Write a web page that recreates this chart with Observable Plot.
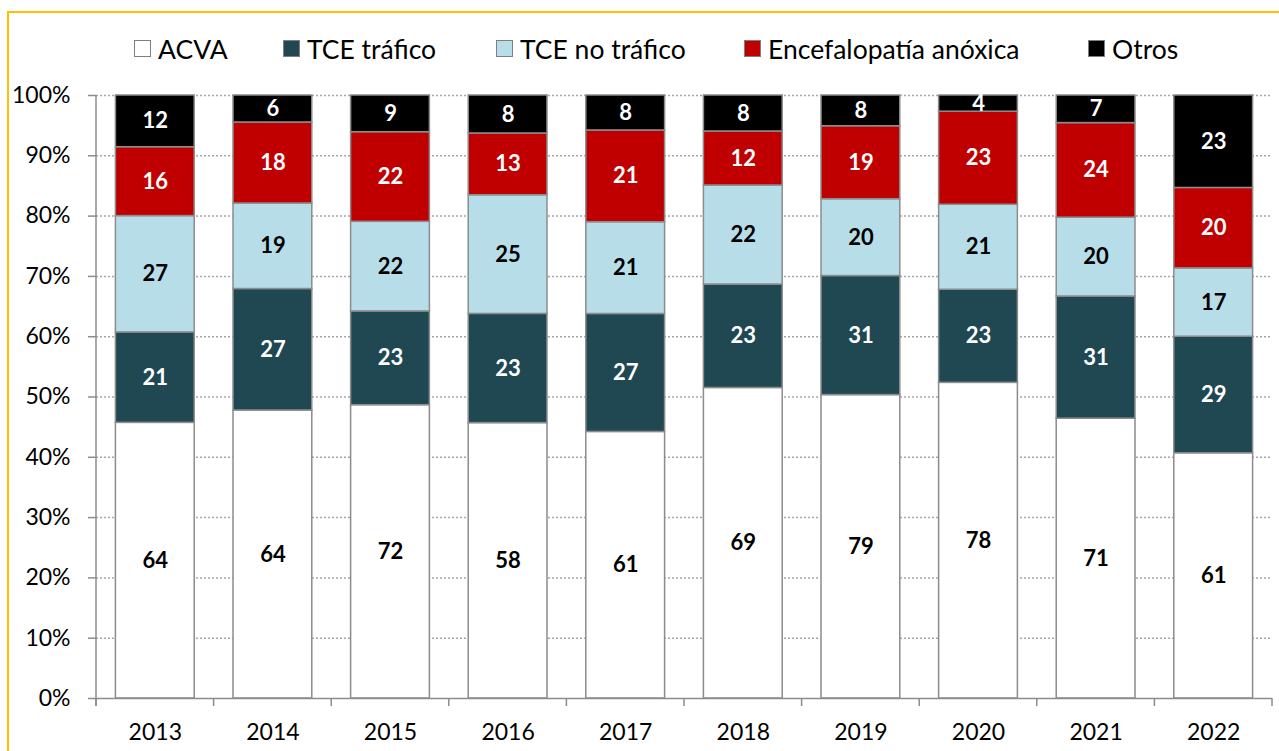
<!DOCTYPE html>
<html>
<head>
<meta charset="utf-8">
<script src="https://cdn.jsdelivr.net/npm/d3@7"></script>
<script src="https://cdn.jsdelivr.net/npm/@observablehq/plot@0.6"></script>
<style>
  body { margin: 0; background: #fff; font-family: Lato, "Open Sans", sans-serif; }
  #wrap { position: relative; width: 1279px; height: 751px; overflow: hidden; background: #fff; }
  #border { position: absolute; left: 7px; top: 11px; width: 1400px; height: 900px; border: 2px solid #FFC000; pointer-events: none; }
  #legend { position: relative; height: 80px; }
  .item { position: absolute; top: 30px; height: 37px; display: flex; align-items: center; font-size: 26.5px; color: #000; white-space: nowrap; }
  .sw { width: 15px; height: 15px; border: 1.5px solid #7f7f7f; margin-right: 7px; }
  #chart svg { display: block; }
</style>
</head>
<body>
<div id="wrap">
  <div id="border"></div>
  <div id="legend"></div>
  <div id="chart"></div>
</div>
<script>
const years = ["2013","2014","2015","2016","2017","2018","2019","2020","2021","2022"];
const seriesNames = ["ACVA","TCE tráfico","TCE no tráfico","Encefalopatía anóxica","Otros"];
const acva        = [64,64,72,58,61,69,79,78,71,61];
const tceTrafico  = [21,27,23,23,27,23,31,23,31,29];
const tceNoTraf   = [27,19,22,25,21,22,20,21,20,17];
const encefalop   = [16,18,22,13,21,12,19,23,24,20];
const otros       = [12,6,9,8,8,8,8,4,7,23];
const yTicks = [0,0.1,0.2,0.3,0.4,0.5,0.6,0.7,0.8,0.9,1];

const seriesValues = [acva, tceTrafico, tceNoTraf, encefalop, otros];
const fillColors  = ["#FFFFFF","#1F4853","#B7DEE8","#C00000","#000000"];
const labelColors = ["#000000","#FFFFFF","#000000","#FFFFFF","#FFFFFF"];
const legendLeft  = [134, 283, 496, 744, 1088];

const data = [];
seriesNames.forEach((s, i) => years.forEach((y, j) => data.push({year: y, serie: s, value: seriesValues[i][j], si: i})));

// Legend
const legend = document.getElementById("legend");
seriesNames.forEach((s, i) => {
  const it = document.createElement("div");
  it.className = "item";
  it.style.left = legendLeft[i] + "px";
  it.innerHTML = `<span class="sw" style="background:${fillColors[i]}"></span><span>${s}</span>`;
  legend.appendChild(it);
});

const W = 1279, H = 671, mL = 96, mR = 7, mT = 15, mB = 53;
const plot = Plot.plot({
  width: W, height: H,
  marginLeft: mL, marginRight: mR, marginTop: mT, marginBottom: mB,
  style: {fontFamily: "Lato, sans-serif", background: "transparent", overflow: "visible"},
  x: {type: "band", domain: years, paddingInner: 0.33, paddingOuter: 0.165, round: false, label: null},
  y: {domain: [0, 1], label: null},
  color: {type: "identity"},
  marks: [
    Plot.ruleY(yTicks.filter(d => d > 0), {stroke: "#A6A6A6", strokeWidth: 1.5, strokeDasharray: "2,2"}),
    Plot.barY(data, Plot.stackY({
      x: "year", y: "value", z: "serie", offset: "normalize", order: seriesNames,
      fill: d => fillColors[d.si], stroke: "#8C8C8C", strokeWidth: 1.5
    })),
    Plot.text(data, Plot.stackY({
      x: "year", y: "value", z: "serie", offset: "normalize", order: seriesNames,
      text: d => String(d.value), fill: d => labelColors[d.si],
      fontWeight: "bold", fontSize: 22
    })),
    Plot.ruleY([0], {stroke: "#8C8C8C", strokeWidth: 1.5}),
    Plot.axisY({ticks: yTicks, tickFormat: d3.format(".0%"), tickSize: 8, tickPadding: 18, stroke: "#8C8C8C", strokeWidth: 1.5, fill: "#000", fontSize: 23, label: null}),
    Plot.axisX({tickSize: 0, tickPadding: 25, fill: "#000", fontSize: 23, label: null})
  ]
});

// Axis line and category boundary ticks, placed through the plot's own scales
const xs = plot.scale("x"), ys = plot.scale("y");
const svg = d3.select(plot.tagName === "svg" ? plot : plot.querySelector("svg"));
const y0 = ys.apply(0), y1 = ys.apply(1);
const g = svg.append("g").attr("stroke", "#8C8C8C").attr("stroke-width", 1.5);
g.append("line").attr("x1", mL).attr("x2", mL).attr("y1", y1).attr("y2", y0 + 8);
const bounds = years.map(y => xs.apply(y) + xs.bandwidth / 2 - xs.step / 2);
bounds.push(xs.apply(years[years.length - 1]) + xs.bandwidth / 2 + xs.step / 2);
bounds.forEach(bx => g.append("line").attr("x1", bx).attr("x2", bx).attr("y1", y0).attr("y2", y0 + 8));

document.getElementById("chart").appendChild(plot);
</script>
</body>
</html>
